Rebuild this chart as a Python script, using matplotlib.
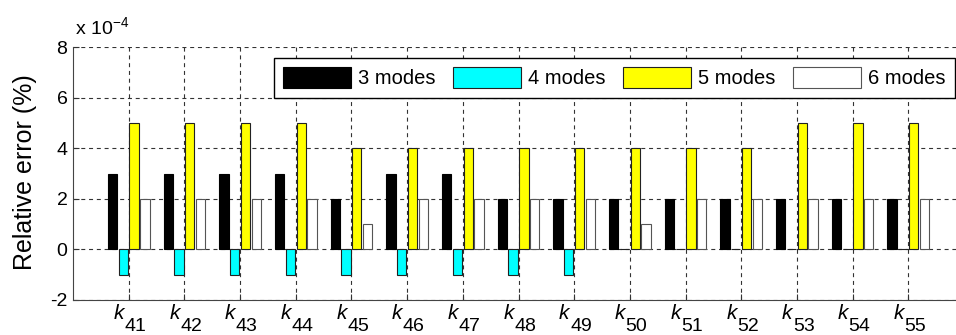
import numpy as np
from matplotlib import pyplot as plt

plt.rcParams['font.family'] = ['Liberation Sans', 'DejaVu Sans']
plt.rcParams['axes.unicode_minus'] = False

# relative error, in units of 1e-4 %
k_index = [41, 42, 43, 44, 45, 46, 47, 48, 49, 50, 51, 52, 53, 54, 55]
modes3 = [3, 3, 3, 3, 2, 3, 3, 2, 2, 2, 2, 2, 2, 2, 2]
modes4 = [-1, -1, -1, -1, -1, -1, -1, -1, -1, 0, 0, 0, 0, 0, 0]
modes5 = [5, 5, 5, 5, 4, 4, 4, 4, 4, 4, 4, 4, 5, 5, 5]
modes6 = [2, 2, 2, 2, 1, 2, 2, 2, 2, 1, 2, 2, 2, 2, 2]
labels = ['3 modes', '4 modes', '5 modes', '6 modes']
yticks = [-2, 0, 2, 4, 6, 8]

W, H = 956, 335
fig = plt.figure(figsize=(W/100, H/100), dpi=100)
ax = fig.add_axes([73/W, 1-300/H, (964-73)/W, (300-47)/H])

x = np.array(k_index)
slot = 0.194
bw = 0.167
series = [modes3, modes4, modes5, modes6]
faces = ['black', '#00ffff', '#ffff00', 'white']
edges = ['black', '#222222', '#222222', '#555555']

for i, (vals, fc, ec, lab) in enumerate(zip(series, faces, edges, labels)):
    ax.bar(x + (i - 1.5)*slot, vals, bw, color=fc, edgecolor=ec, linewidth=0.8,
           label=lab, zorder=3)

ax.set_xlim(40, 56)
ax.set_ylim(-2, 8)
ax.set_yticks(yticks)
ax.set_xticks(x)
ax.set_xticklabels([])
ax.tick_params(axis='y', labelsize=14, direction='in', length=4, pad=4, color='#333333')
ax.tick_params(axis='x', direction='in', length=4, color='#333333')

ax.grid(True, color='#333333', linestyle=(0, (3.6, 3.4)), linewidth=0.8, zorder=1)
ax.set_axisbelow(True)
for s in ['top', 'right']:
    ax.spines[s].set_visible(False)
for s in ['left', 'bottom']:
    ax.spines[s].set_color('#444444')
    ax.spines[s].set_linewidth(0.8)

for xi in k_index:
    ax.annotate('k', xy=(xi, 0), xycoords=('data', 'axes fraction'),
                xytext=(-3.3, -13.8), textcoords='offset points',
                ha='right', va='baseline', fontsize=15, style='italic')
    ax.annotate(str(xi), xy=(xi, 0), xycoords=('data', 'axes fraction'),
                xytext=(-3.0, -22.5), textcoords='offset points',
                ha='left', va='baseline', fontsize=14)

fig.text(25/W, 1-172/H, 'Relative error (%)', rotation=90, ha='center', va='center',
         fontsize=18)
fig.text(75/W, 1-35/H, r'x 10$^{\mathregular{-4}}$', ha='left', va='baseline', fontsize=14)

leg = ax.legend(loc='upper right', bbox_to_anchor=(955/W, 1-58/H), bbox_transform=fig.transFigure,
                ncol=4, fontsize=14.5, handlelength=3.4, handleheight=1.25, handletextpad=0.35,
                columnspacing=0.85, borderpad=0.45, borderaxespad=0, fancybox=False,
                framealpha=1, edgecolor='black')
leg.get_frame().set_linewidth(1.0)

fig.savefig('out.png', dpi=100)
